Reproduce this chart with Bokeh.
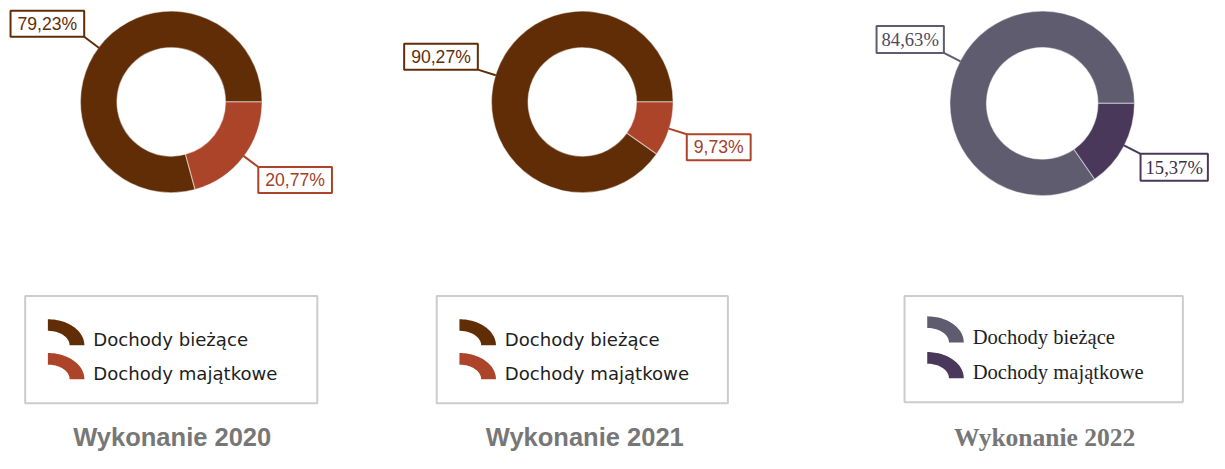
import math
from bokeh.plotting import figure
from bokeh.models import Range1d
from bokeh.core.properties import value
from bokeh.embed import file_html
from bokeh.resources import INLINE

# ---------------- data ----------------
years = ["2020", "2021", "2022"]
categories = ["Dochody bieżące", "Dochody majątkowe"]
biezace = [79.23, 90.27, 84.63]
majatkowe = [20.77, 9.73, 15.37]
titles = ["Wykonanie 2020", "Wykonanie 2021", "Wykonanie 2022"]

# ---------------- styling / layout ----------------
panel_cx = [173, 589.5, 1055.5]
panel_cy = [105, 105, 106.5]
outer_r = [92, 92, 93.5]
inner_r = [55, 55, 56.5]
slice_colors = [["#612d07", "#ab4428"], ["#612d07", "#ab4428"], ["#5e5c6e", "#4a385b"]]
label_text_colors = [["#612d07", "#a3402a"], ["#612d07", "#a3402a"], ["#4d4b5c", "#3a2f48"]]
label_fonts = ["Liberation Sans", "Liberation Sans", "Liberation Serif"]
label_sizes = ["17.6px", "17.6px", "18.6px"]
label_pad = [(7, 3), (7, 3), (5, 3)]
legend_fonts = ["DejaVu Sans", "DejaVu Sans", "Liberation Serif"]
legend_sizes = ["18.1px", "18.1px", "20.6px"]
legend_baselines = [[351, 386], [351, 386], [348, 385]]
legend_box = [(25, 321, 306, 417), (442, 737, 306, 417), (916, 1198, 306, 416)]
title_fonts = ["Liberation Sans", "Liberation Sans", "Liberation Serif"]
title_cx = [174, 592, 1058]
title_size = "25.5px"
title_baseline = 452
leader_len = 19

p = figure(width=1209, height=453, output_backend="svg", toolbar_location=None,
           x_range=Range1d(0, 1225), y_range=Range1d(469, 0),
           x_axis_location=None, y_axis_location=None, min_border=0)
p.grid.visible = False
p.outline_line_color = None
p.background_fill_color = "white"


def fmt(v):
    return f"{v:.2f}".replace(".", ",") + "%"


for i in range(3):
    cx, cy, R, r = panel_cx[i], panel_cy[i], outer_r[i], inner_r[i]
    fb = biezace[i] / 100.0
    fm = majatkowe[i] / 100.0
    # big slice: counter-clockwise from 0; small slice: clockwise from 0
    starts = [0.0, -2 * math.pi * fm]
    ends = [2 * math.pi * fb, 0.0]
    p.annular_wedge(x=[cx, cx], y=[cy, cy], inner_radius=r, outer_radius=R,
                    start_angle=starts, end_angle=ends, fill_color=slice_colors[i],
                    line_color="white", line_alpha=0.45, line_width=1.2)

    # labels with leader lines
    mids = [math.pi * fb, -math.pi * fm]
    vals = [biezace[i], majatkowe[i]]
    for k in range(2):
        a = mids[k]
        dx, dy = math.cos(a), -math.sin(a)
        x0, y0 = cx + R * dx, cy + R * dy
        x1, y1 = x0 + leader_len * dx, y0 + leader_len * dy
        p.line([x0, x1], [y0, y1], line_color=slice_colors[i][k], line_width=2)
        anchor = "bottom_right" if dx < 0 else "top_left"
        p.text(x=[x1], y=[y1], text=[fmt(vals[k])], anchor=anchor,
               padding=label_pad[i],
               border_line_color=slice_colors[i][k], border_line_width=2,
               background_fill_color="white",
               text_font=value(label_fonts[i]), text_font_size=value(label_sizes[i]),
               text_color=label_text_colors[i][k])

    # legend box
    L, Rt, T, B = legend_box[i]
    p.quad(left=[L], right=[Rt], top=[T], bottom=[B], fill_color=None,
           line_color="#cccccc", line_width=2)
    for k in range(2):
        xl = L + 23
        yb = legend_baselines[i][k] + 6
        n = 30
        pts_x, pts_y = [], []
        for j in range(n + 1):
            t = math.pi / 2 * (1 - j / n)
            pts_x.append(xl + 37 * math.cos(t))
            pts_y.append(yb - 27 * math.sin(t))
        for j in range(n + 1):
            t = math.pi / 2 * (j / n)
            pts_x.append(xl + 22 * math.cos(t))
            pts_y.append(yb - 15 * math.sin(t))
        p.patch(pts_x, pts_y, fill_color=slice_colors[i][k], line_color=None)
        p.text(x=[xl + 46], y=[legend_baselines[i][k]], text=[categories[k]],
               text_baseline="alphabetic", text_align="left",
               text_font=value(legend_fonts[i]), text_font_size=value(legend_sizes[i]),
               text_color="#1e1e1e")

    # title
    p.text(x=[title_cx[i]], y=[title_baseline], text=[titles[i]], text_align="center",
           text_baseline="alphabetic", text_font=value(title_fonts[i]),
           text_font_size=value(title_size), text_font_style="bold", text_color="#777777")

open("out.html", "w").write(file_html(p, INLINE))
